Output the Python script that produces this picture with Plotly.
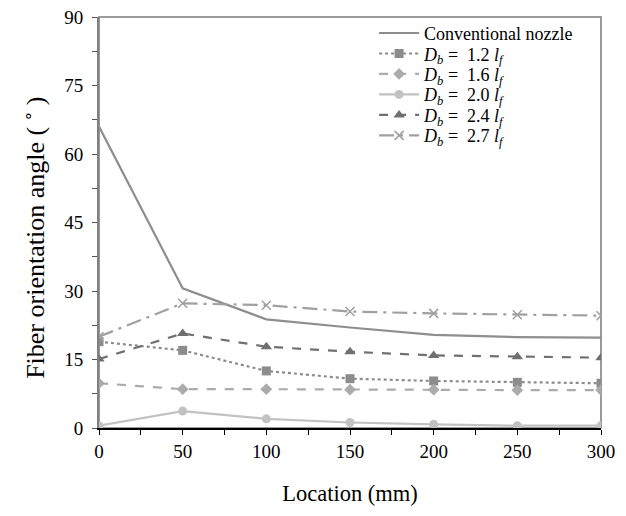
import plotly.graph_objects as go

location = [0, 50, 100, 150, 200, 250, 300]
conventional = [66.0, 30.6, 23.8, 22.0, 20.4, 19.9, 19.8]
db_1_2 = [18.9, 17.0, 12.5, 10.8, 10.3, 10.0, 9.8]
db_1_6 = [9.8, 8.5, 8.5, 8.4, 8.4, 8.3, 8.3]
db_2_0 = [0.5, 3.7, 2.0, 1.2, 0.8, 0.5, 0.5]
db_2_4 = [15.1, 20.7, 17.8, 16.7, 15.9, 15.6, 15.4]
db_2_7 = [20.0, 27.3, 26.9, 25.5, 25.1, 24.8, 24.6]

x_ticks = [0, 50, 100, 150, 200, 250, 300]
y_ticks = [0, 15, 30, 45, 60, 75, 90]

FONT = "Liberation Serif"

def lbl(v):
    return f"<i>D</i><sub><i>b</i></sub> =  {v} <i>l</i><sub><i>f</i></sub>"

series = [
    ("Conventional nozzle", conventional, "#8e8e8e", "solid", None, 0),
    (lbl("1.2"), db_1_2, "#8c8c8c", "dot", "square", 9),
    (lbl("1.6"), db_1_6, "#ababab", "dash", "diamond", 9),
    (lbl("2.0"), db_2_0, "#c2c2c2", "solid", "circle", 9),
    (lbl("2.4"), db_2_4, "#707070", "dash", "triangle-up", 10),
    (lbl("2.7"), db_2_7, "#a0a0a0", "longdashdot", "x-thin", 9),
]

fig = go.Figure()
legend_names = ["legend", "legend2", "legend3", "legend4", "legend5", "legend6"]
for i, (name, vals, col, dash, sym, size) in enumerate(series):
    kw = dict(x=location, y=vals, name=name, legend=legend_names[i],
              line=dict(color=col, width=2.2, dash=dash))
    if sym:
        kw["mode"] = "lines+markers"
        kw["marker"] = dict(symbol=sym, size=size, color=col,
                            line=dict(color=col, width=1.5 if sym == "x-thin" else 0))
    else:
        kw["mode"] = "lines"
    fig.add_trace(go.Scatter(**kw))

fig.add_shape(type="rect", xref="paper", yref="paper", x0=0, x1=1, y0=0, y1=1,
              line=dict(color="#7a7a7a", width=1.5), layer="below")

legend_layout = {}
row0 = 0.958
step = 0.0497
for i, ln in enumerate(legend_names):
    legend_layout[ln] = dict(x=0.548, y=row0 - i * step, xanchor="left", yanchor="middle",
                             bgcolor="rgba(0,0,0,0)", borderwidth=0,
                             font=dict(family=FONT, size=18, color="black"),
                             itemwidth=40)

fig.add_annotation(text="Fiber orientation angle ( ˚ )", textangle=-90,
                   xref="paper", yref="paper", x=-0.128, y=0.462,
                   xanchor="center", yanchor="middle", showarrow=False,
                   font=dict(family=FONT, size=26, color="black"))

fig.update_layout(
    width=610, height=500,
    margin=dict(l=91, r=17, t=8, b=80),
    paper_bgcolor="white", plot_bgcolor="white",
    font=dict(family=FONT, color="black", size=18),
    showlegend=True,
    xaxis=dict(range=[0, 300], tickvals=x_ticks, showgrid=False, zeroline=False,
               showline=True, linecolor="black", linewidth=1.5, automargin=False,
               ticks="outside", ticklen=5, tickcolor="black",
               minor=dict(dtick=25, ticks="outside", ticklen=5, tickcolor="black"),
               tickfont=dict(family=FONT, size=19), ticklabeloverflow="allow",
               title=dict(text="Location (mm)", font=dict(family=FONT, size=22.5), standoff=25)),
    yaxis=dict(range=[0, 90], tickvals=y_ticks, showgrid=False, zeroline=False,
               showline=True, linecolor="#808080", linewidth=2, automargin=False,
               ticks="outside", ticklen=5, tickcolor="#555555", ticklabelstandoff=5,
               minor=dict(dtick=7.5, ticks="outside", ticklen=5, tickcolor="#555555"),
               tickfont=dict(family=FONT, size=19), ticklabeloverflow="allow"),
    **legend_layout,
)

fig.write_html("out.html")
